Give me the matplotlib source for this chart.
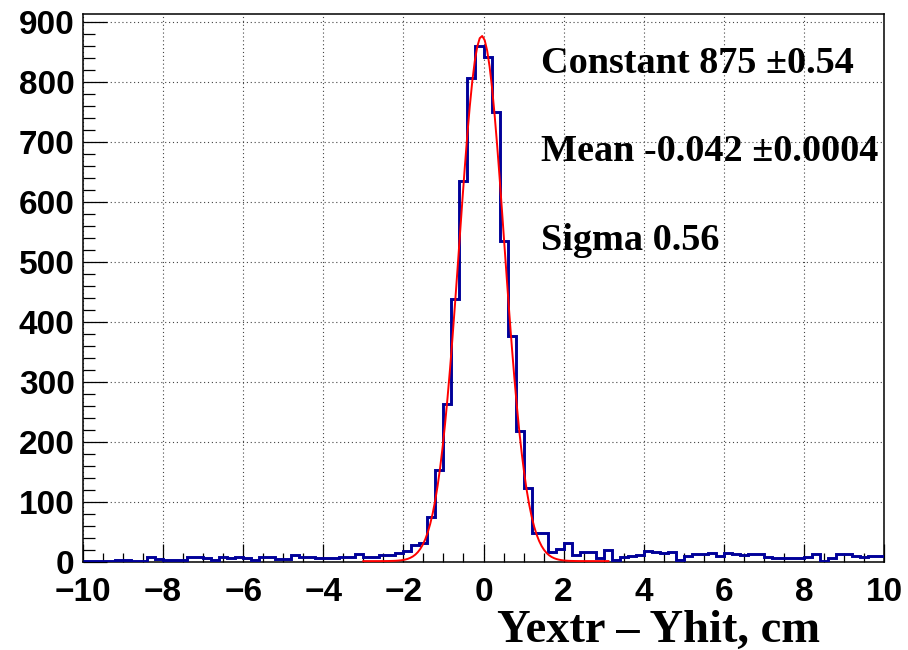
import numpy as np
import matplotlib.pyplot as plt
from matplotlib.ticker import MultipleLocator

# histogram of Yextr - Yhit, 100 bins of 0.2 cm from -10 to 10
edges = np.linspace(-10, 10, 101)

left_tail = [2, 2, 2, 2, 3, 3, 2, 2, 9, 5,
             4, 3, 3, 8, 8, 6, 3, 8, 6, 9,
             7, 4, 8, 8, 5, 5, 12, 8, 8, 7,
             7, 7, 8, 8, 14, 9, 9, 11, 12, 15]
peak = [18, 29, 31, 75, 153, 263, 438, 635, 807, 860,
        842, 749, 534, 377, 219, 123, 49, 48, 17, 22]
right_tail = [31, 12, 16, 16, 6, 20, 4, 8, 10, 12,
              18, 16, 15, 17, 3, 10, 13, 13, 15, 10,
              15, 13, 12, 14, 14, 9, 6, 7, 7, 6,
              8, 13, 1, 6, 14, 14, 10, 8, 10, 10]
counts = np.array(left_tail + peak + right_tail)

xticks = np.arange(-10, 11, 2)
xticklabels = [f"\u2212{abs(v)}" if v < 0 else f"{v}" for v in xticks]

# gaussian fit parameters
constant = 875
constant_err = 0.54
mean = -0.042
mean_err = 0.0004
sigma = 0.56
fit_lo, fit_hi = -3.0, 3.12

fig = plt.figure(figsize=(9.08, 6.5), dpi=100)
ax = fig.add_axes([83 / 908, 1 - 562 / 650, 801 / 908, 548 / 650])

ax.stairs(counts, edges, baseline=None, color="#000099", lw=2.1, zorder=3)

xf = np.linspace(fit_lo, fit_hi, 100)
yf = constant * np.exp(-0.5 * ((xf - mean) / sigma) ** 2)
ax.plot(xf, yf + 1.5, color="red", lw=1.4, zorder=4, clip_on=False)

ax.set_xticks(xticks, xticklabels)
ax.xaxis.set_minor_locator(MultipleLocator(0.5))
ax.yaxis.set_major_locator(MultipleLocator(100))
ax.yaxis.set_minor_locator(MultipleLocator(20))
ax.set_xlim(-10, 10)
ax.set_ylim(0, 913)

ax.grid(True, which="major", color="#444444", lw=0.8, linestyle=(0, (1, 2.5)))
ax.set_axisbelow(True)

ax.tick_params(axis="x", which="major", direction="in", length=13, width=0.9,
               pad=11, labelsize=24)
ax.tick_params(axis="x", which="minor", direction="in", length=6.5, width=0.9)
ax.tick_params(axis="y", which="major", direction="in", length=17, width=0.9,
               pad=6, labelsize=24)
ax.tick_params(axis="y", which="minor", direction="in", length=8.5, width=0.9)

for sp in ax.spines.values():
    sp.set_linewidth(1.1)

for lab in ax.get_xticklabels() + ax.get_yticklabels():
    lab.set_fontfamily("Liberation Sans")
    lab.set_fontweight("bold")

serif = dict(family="Liberation Serif", weight="bold", fontsize=27.5, va="baseline")
fig.text(541 / 908, 1 - 73 / 650, f"Constant {constant} \u00b1{constant_err}", **serif)
fig.text(541 / 908, 1 - 161 / 650, f"Mean {mean} \u00b1{mean_err}", **serif)
fig.text(541 / 908, 1 - 250 / 650, f"Sigma {sigma}", **serif)

fig.text(820 / 908, 1 - 642 / 650, "Yextr \u2013 Yhit, cm", family="Liberation Serif",
         weight="bold", fontsize=33.5, ha="right", va="baseline")

fig.savefig("out.png", dpi=100)
